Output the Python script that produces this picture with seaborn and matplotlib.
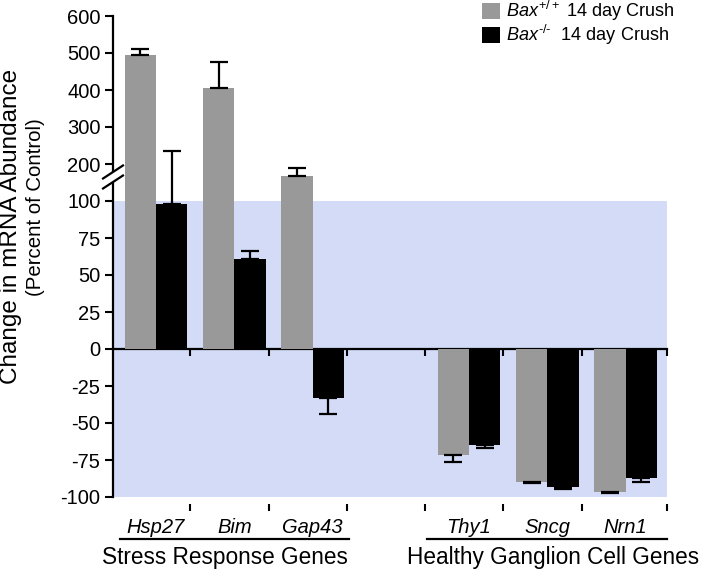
import numpy as np
import pandas as pd
import matplotlib
matplotlib.use("Agg")
import matplotlib.pyplot as plt
import matplotlib.transforms as mtransforms
from matplotlib.patches import Patch, Polygon
import seaborn as sns

# ---------------- data ----------------
genes_order = ["Hsp27", "Bim", "Gap43", " ", "Thy1", "Sncg", "Nrn1"]
genes = ["Hsp27", "Bim", "Gap43", "Thy1", "Sncg", "Nrn1"]
wt_values = [495, 406, 167, -71.8, -89.8, -96.4]
wt_err = [15, 71, 21.5, 4.8, 0.6, 0.9]
ko_values = [98, 61, -33.3, -65, -93.2, -87.2]
ko_err = [136, 5.4, 10.9, 1.8, 1.6, 3.0]
group_names = ["Stress Response Genes", "Healthy Ganglion Cell Genes"]
yticks = [-100, -75, -50, -25, 0, 25, 50, 75, 100, 200, 300, 400, 500, 600]
hue_levels = ["wt", "ko"]
legend_labels = [r"$Bax^{+/+}$ 14 day Crush", "$Bax^{\u2010/\u2010}$  14 day Crush"]

GRAY = "#999999"
BLACK = "#000000"
BLUE = "#d3dbf7"

plt.rcParams["font.family"] = ["Liberation Sans", "DejaVu Sans"]
plt.rcParams["mathtext.fontset"] = "custom"
plt.rcParams["mathtext.rm"] = "Liberation Sans"
plt.rcParams["mathtext.it"] = "Liberation Sans:italic"
plt.rcParams["mathtext.bf"] = "Liberation Sans:bold"

df = pd.DataFrame({
    "gene": genes * 2,
    "value": wt_values + ko_values,
    "err": wt_err + ko_err,
    "genotype": ["wt"] * len(genes) + ["ko"] * len(genes),
})

# broken axis as piecewise linear scale
def fwd(y):
    y = np.asarray(y, dtype=float)
    return np.where(y <= 100, y, 100 + (y - 100) / 4.0)

def inv(t):
    t = np.asarray(t, dtype=float)
    return np.where(t <= 100, t, 100 + (t - 100) * 4.0)

fig = plt.figure(figsize=(7.06, 5.72), dpi=100)
ax = fig.add_axes([113 / 706, 75 / 572, 554 / 706, 481 / 572])

ax.set_yscale("function", functions=(fwd, inv))

sns.barplot(data=df, x="gene", y="value", hue="genotype", order=genes_order,
            hue_order=hue_levels, palette=[GRAY, BLACK], saturation=1,
            errorbar=None, width=0.8, legend=False, linewidth=0, ax=ax, zorder=2)

XL, XR = -0.55, 6.53
ax.set_ylim(-100, 600)
ax.set_xlim(XL, XR)
ax.axhspan(-100, 100, color=BLUE, zorder=0, lw=0)

# error bars, positioned from drawn bars
lookup = {(g, h): (v, e) for g, h, v, e in zip(df.gene, df.genotype, df.value, df.err)}
for h, cont in zip(hue_levels, ax.containers):
    for bar in cont:
        xc = bar.get_x() + bar.get_width() / 2
        idx = int(round(xc))
        g = genes_order[idx]
        if (g, h) not in lookup:
            continue
        v, e = lookup[(g, h)]
        yerr = [[0], [e]] if v >= 0 else [[e], [0]]
        ax.errorbar([xc], [v], yerr=yerr, fmt="none", ecolor="black",
                    elinewidth=1.6, capsize=6.5, capthick=1.6, zorder=3)

# spines
for s in ["top", "right"]:
    ax.spines[s].set_visible(False)
ax.spines["left"].set_linewidth(1.6)
ax.spines["bottom"].set_visible(False)
ax.spines["bottom"].set_position(("outward", 5))

ax.set_yticks(yticks)
ax.set_yticklabels([str(t) for t in yticks])
ax.tick_params(axis="y", direction="out", length=6, width=1.5, labelsize=14.5, pad=3)

bounds = list(np.arange(len(genes_order) - 1) + 0.44) + [XR]
centers = [i for i, g in enumerate(genes_order) if g.strip()]
ax.set_xticks(bounds)
ax.set_xticklabels([])
ax.set_xticks(centers, minor=True)
ax.set_xticklabels([genes_order[i] for i in centers], minor=True,
                   fontstyle="italic", fontsize=14.5)
ax.tick_params(axis="x", which="major", direction="out", length=5, width=1.5)
ax.tick_params(axis="x", which="minor", length=0, pad=10)
ax.set_xlabel("")
ax.set_ylabel("")

# zero line with ticks
sec = ax.secondary_xaxis(0, transform=ax.transData)
sec.set_xticks(bounds)
sec.set_xticklabels([])
sec.tick_params(direction="out", length=5, width=1.5)
sec.spines["bottom"].set_linewidth(1.6)

# axis break marks
bt = mtransforms.blended_transform_factory(ax.transAxes, ax.transData)
x0, x1 = -0.018, 0.018
up = (160.8, 196.0)
lo = (133.8, 168.9)
ax.add_patch(Polygon([[x0, up[0]], [x1, up[1]], [x1, lo[1]], [x0, lo[0]]],
                     closed=True, facecolor="white", edgecolor="none",
                     transform=bt, clip_on=False, zorder=4))
ax.plot([x0, x1], list(up), color="black", lw=1.6, transform=bt, clip_on=False, zorder=5)
ax.plot([x0, x1], list(lo), color="black", lw=1.6, transform=bt, clip_on=False, zorder=5)

# group underlines and labels
gt = mtransforms.blended_transform_factory(ax.transData, fig.transFigure)
ax.plot([-0.46, 2.47], [0.0577, 0.0577], color="black", lw=1.6, transform=gt, clip_on=False)
ax.plot([3.46, XR], [0.0577, 0.0577], color="black", lw=1.6, transform=gt, clip_on=False)
ax.text(0.88, 0.0245, group_names[0], transform=gt, ha="center", va="center", fontsize=16.3)
ax.text(5.08, 0.0245, group_names[1], transform=gt, ha="center", va="center", fontsize=16.3)

# y label (two lines)
fig.text(11 / 706, 1 - 226 / 572, "Change in mRNA Abundance", rotation=90,
         ha="center", va="center", fontsize=17.5)
fig.text(36 / 706, 1 - 207.5 / 572, "(Percent of Control)", rotation=90,
         ha="center", va="center", fontsize=14.7)

# legend
handles = [Patch(facecolor=c, edgecolor="none") for c in [GRAY, BLACK]]
fig.legend(handles, legend_labels, loc="upper left",
           bbox_to_anchor=(482 / 706, 1.002), frameon=False, fontsize=13.1,
           handlelength=1.0, handleheight=1.0, handletextpad=0.3,
           labelspacing=0.02, borderpad=0.0, borderaxespad=0.0)

fig.savefig("out.png", dpi=100)
